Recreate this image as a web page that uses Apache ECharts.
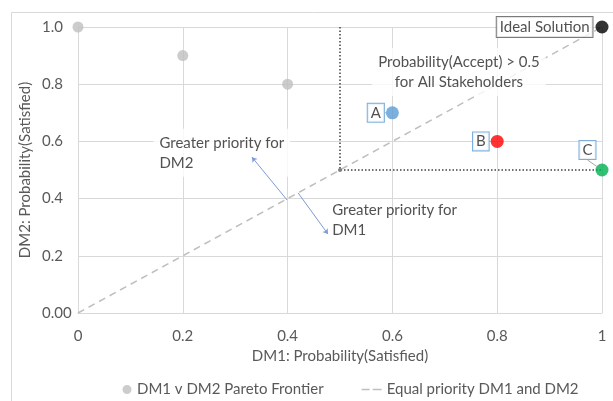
<!DOCTYPE html>
<html>
<head>
<meta charset="utf-8">
<script src="https://cdn.jsdelivr.net/npm/echarts@6/dist/echarts.min.js"></script>
<style>
  html, body { margin: 0; padding: 0; background: #fff; }
  #chart { width: 613px; height: 401px; }
</style>
</head>
<body>
<div id="chart"></div>
<script>
// Pareto frontier between the two decision makers
const paretoX = [0, 0.2, 0.4];
const paretoY = [1.0, 0.9, 0.8];

// Candidate solutions
const solutionNames = ['A', 'B', 'C'];
const solutionX = [0.6, 0.8, 1.0];
const solutionY = [0.7, 0.6, 0.5];
const solutionColors = ['#5B9BD5', '#FF0000', '#00B050'];

// Ideal point
const idealName = 'Ideal Solution';
const idealX = [1.0];
const idealY = [1.0];

// Equal-priority diagonal
const diagX = [0, 1];
const diagY = [0, 1];

// Acceptance threshold region corner
const thresholdX = [0.5, 0.5, 1.0];
const thresholdY = [1.0, 0.5, 0.5];

// Tick labels
const xTickLabels = ['0', '0.2', '0.4', '0.6', '0.8', '1'];
const yTickLabels = ['0.00', '0.2', '0.4', '0.6', '0.8', '1.0'];

// Text annotations (anchor in data units)
const notes = [
  { text: 'Probability(Accept) > 0.5\nfor All Stakeholders', x: 0.727, y: 0.843, align: 'center', bg: true },
  { text: 'Greater priority for\nDM2', x: 0.144, y: 0.56, align: 'left', bg: true },
  { text: 'Greater priority for\nDM1', x: 0.485, y: 0.325, align: 'left', bg: false }
];

// Arrows pointing away from the diagonal
const arrows = [
  { from: [0.399, 0.395], to: [0.332, 0.545] },
  { from: [0.42, 0.42], to: [0.477, 0.276] }
];

const FONT = 'Lato, "Open Sans", sans-serif';
const TEXT = '#595959';
const FS = 15;

// Legend glyphs drawn in a 22 x 10 box (corner specks fix the bounds)
const BOX = 'M0,0L0.01,0L0.01,0.01Z M22,10L21.99,10L21.99,9.99Z ';
const ICON_DOT = 'path://' + BOX + 'M12.5,5a4.5,4.5 0 1,0 9,0a4.5,4.5 0 1,0 -9,0Z';
const ICON_DASH = 'path://' + BOX + 'M2,4.2h8v1.6h-8Z M13,4.2h9v1.6h-9Z';

const chart = echarts.init(document.getElementById('chart'), null, { renderer: 'canvas' });

const tickIndex = v => Math.round(v / 0.2);

chart.setOption({
  backgroundColor: '#ffffff',
  animation: false,
  textStyle: { fontFamily: FONT },
  graphic: [{
    type: 'rect',
    shape: { x: 11.5, y: 12.5, width: 640, height: 420 },
    style: { fill: 'none', stroke: '#D9D9D9', lineWidth: 1 },
    silent: true,
    z: -1
  }],
  grid: { left: 78, right: 11, top: 27, bottom: 88, containLabel: false },
  xAxis: {
    type: 'value', min: 0, max: 1, interval: 0.2,
    name: 'DM1: Probability(Satisfied)', nameLocation: 'middle', nameGap: 33,
    nameTextStyle: { color: TEXT, fontSize: FS, fontFamily: FONT },
    axisLine: { show: true, lineStyle: { color: '#D9D9D9' } },
    axisTick: { show: false },
    axisLabel: { color: TEXT, fontSize: FS, margin: 16, fontFamily: FONT,
      formatter: v => xTickLabels[tickIndex(v)] },
    splitLine: { show: true, lineStyle: { color: '#D9D9D9' } }
  },
  yAxis: {
    type: 'value', min: 0, max: 1, interval: 0.2,
    name: 'DM2: Probability(Satisfied)', nameLocation: 'middle', nameGap: 45,
    nameMoveOverlap: false,
    nameTextStyle: { color: TEXT, fontSize: FS, fontFamily: FONT },
    axisLine: { show: false },
    axisTick: { show: false },
    axisLabel: { color: TEXT, fontSize: FS, margin: 36, align: 'left', fontFamily: FONT,
      formatter: v => yTickLabels[tickIndex(v)] },
    splitLine: { show: true, lineStyle: { color: '#D9D9D9' } }
  },
  legend: {
    left: 105, top: 377, itemGap: 36, itemWidth: 22, itemHeight: 10,
    symbolKeepAspect: true,
    textStyle: { color: TEXT, fontSize: FS, fontFamily: FONT },
    data: [
      { name: 'DM1 v DM2 Pareto Frontier', icon: ICON_DOT, itemStyle: { color: '#BFBFBF' } },
      { name: 'Equal priority DM1 and DM2', icon: ICON_DASH, itemStyle: { color: '#BFBFBF' } }
    ]
  },
  series: [
    {
      name: 'Equal priority DM1 and DM2', type: 'line',
      data: diagX.map((x, i) => [x, diagY[i]]),
      showSymbol: false, symbol: 'none',
      lineStyle: { color: '#BFBFBF', width: 1.5, type: [7, 5] },
      itemStyle: { color: '#BFBFBF' },
      z: 2,
      markLine: {
        silent: true, symbol: ['none', 'arrow'], symbolSize: 5,
        label: { show: false },
        lineStyle: { color: '#7C9AD8', width: 1, type: 'solid' },
        data: arrows.map(a => [{ coord: a.from }, { coord: a.to }])
      }
    },
    {
      name: 'threshold', type: 'line',
      data: thresholdX.map((x, i) => [x, thresholdY[i]]),
      symbol: 'circle', symbolSize: (v, p) => (p.dataIndex === 1 ? 4 : 0),
      itemStyle: { color: '#808080' },
      lineStyle: { color: '#404040', width: 1.5, type: [1.5, 2] },
      z: 3
    },
    {
      name: 'notes', type: 'scatter',
      data: notes.map(n => ({
        value: [n.x, n.y],
        label: {
          show: true, position: 'inside', formatter: n.text, align: n.align,
          backgroundColor: n.bg ? '#ffffff' : 'transparent',
          padding: n.bg ? [4, 6] : 0
        }
      })),
      symbolSize: 0,
      label: { color: '#262626', fontSize: FS, lineHeight: 20, fontFamily: FONT },
      z: 4
    },
    {
      name: 'DM1 v DM2 Pareto Frontier', type: 'scatter',
      data: paretoX.map((x, i) => [x, paretoY[i]]),
      symbolSize: 11,
      itemStyle: { color: '#BFBFBF' },
      z: 5
    },
    {
      name: 'solutions', type: 'scatter',
      data: solutionX.map((x, i) => ({
        value: [x, solutionY[i]],
        name: solutionNames[i],
        itemStyle: { color: solutionColors[i] }
      })),
      symbolSize: 13,
      label: {
        show: true, position: 'left', distance: 2, formatter: '{b}',
        color: '#262626', fontSize: FS, fontFamily: FONT,
        borderColor: '#5B9BD5', borderWidth: 1, backgroundColor: '#ffffff',
        padding: [2, 3, 1, 3]
      },
      labelLayout: p => (p.dataIndex === 2 ? { dx: 2, dy: -20 } : {}),
      labelLine: { show: true, length2: 0, lineStyle: { color: '#A6A6A6', width: 1 } },
      z: 6
    },
    {
      name: 'ideal', type: 'scatter',
      data: idealX.map((x, i) => ({ value: [x, idealY[i]], name: idealName })),
      symbolSize: 13,
      itemStyle: { color: '#000000' },
      label: {
        show: true, position: 'left', distance: 3, formatter: '{b}',
        color: '#262626', fontSize: FS, fontFamily: FONT,
        borderColor: '#595959', borderWidth: 1, backgroundColor: '#ffffff',
        padding: [3, 3, 2, 3]
      },
      z: 6
    }
  ]
});
</script>
</body>
</html>
